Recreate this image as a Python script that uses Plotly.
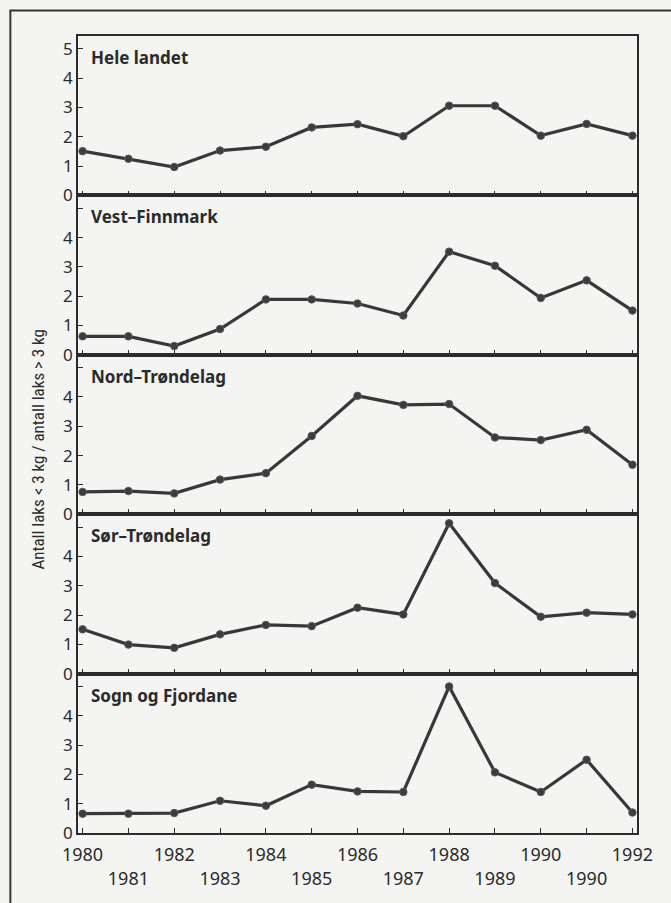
import plotly.graph_objects as go
from plotly.subplots import make_subplots

# Years on the x axis
years = [1980, 1981, 1982, 1983, 1984, 1985, 1986, 1987, 1988, 1989, 1990, 1991, 1992]

# Labels printed under the axis (two staggered rows, as printed)
year_labels = ["1980", "1981", "1982", "1983", "1984", "1985", "1986",
               "1987", "1988", "1989", "1990", "1990", "1992"]

# Ratio of small salmon (< 3 kg) to large salmon (> 3 kg), per region
region_names = ["Hele landet", "Vest–Finnmark", "Nord–Trøndelag",
                "Sør–Trøndelag", "Sogn og Fjordane"]

hele_landet = [1.51, 1.25, 0.97, 1.53, 1.66, 2.32, 2.43, 2.02, 3.06, 3.06, 2.04, 2.44, 2.04]
vest_finnmark = [0.63, 0.63, 0.30, 0.88, 1.89, 1.89, 1.75, 1.34, 3.52, 3.04, 1.94, 2.54, 1.51]
nord_trondelag = [0.76, 0.79, 0.71, 1.18, 1.40, 2.67, 4.04, 3.73, 3.76, 2.62, 2.53, 2.88, 1.69]
sor_trondelag = [1.51, 0.99, 0.88, 1.34, 1.66, 1.62, 2.25, 2.02, 5.13, 3.09, 1.94, 2.08, 2.02]
sogn_fjordane = [0.66, 0.66, 0.68, 1.10, 0.93, 1.65, 1.42, 1.40, 5.00, 2.07, 1.40, 2.50, 0.70]

series = [hele_landet, vest_finnmark, nord_trondelag, sor_trondelag, sogn_fjordane]

y_ticks = [0, 1, 2, 3, 4, 5]
y_title = "Antall laks < 3 kg / antall laks > 3 kg"

INK = "#2b2b2b"
BG = "#f4f4f2"
TICK_FONT = dict(family="Noto Sans, Open Sans, sans-serif", size=17, color=INK)

fig = make_subplots(rows=5, cols=1, shared_xaxes=True, vertical_spacing=0)

for i, (name, vals) in enumerate(zip(region_names, series), start=1):
    fig.add_trace(
        go.Scatter(
            x=years, y=vals, mode="lines+markers", name=name,
            line=dict(color="#383838", width=3.2),
            marker=dict(size=7.5, color="#3c3c3c", line=dict(color="#585858", width=1)),
            showlegend=False, hoverinfo="x+y",
        ),
        row=i, col=1,
    )
    # panel heading in the upper-left corner
    fig.add_annotation(
        text=f"<b>{name}</b>", xref=f"x{'' if i == 1 else i} domain",
        yref=f"y{'' if i == 1 else i} domain", x=0.02, y=0.865,
        xanchor="left", yanchor="middle", showarrow=False,
        font=dict(family="Noto Sans, Open Sans, sans-serif", size=17, color=INK),
    )
    fig.update_yaxes(
        range=[0, 5.44], tickvals=y_ticks,
        ticktext=[str(v) for v in y_ticks] if i == 1 else [str(v) for v in y_ticks[:-1]] + [""],
        ticks="inside", ticklen=5, tickwidth=1.3, tickcolor=INK,
        showline=True, linecolor=INK, linewidth=1.6, mirror=True,
        showgrid=False, zeroline=False, tickfont=TICK_FONT,
        row=i, col=1,
    )
    fig.update_xaxes(
        range=[1979.9, 1992.1], tickvals=years,
        ticktext=[lab if k % 2 == 0 else "<br>" + lab for k, lab in enumerate(year_labels)],
        showticklabels=(i == 5),
        ticks="inside", ticklen=5, tickwidth=1.3, tickcolor=INK,
        showline=True, linecolor=INK, linewidth=1.6, mirror=True,
        showgrid=False, zeroline=False, tickfont=dict(TICK_FONT, size=18),
        tickangle=0, ticklabelstandoff=5,
        row=i, col=1,
    )

# rotated y-axis title shared by all panels
fig.add_annotation(
    text=y_title, xref="paper", yref="paper", x=-0.072, y=0.482,
    xanchor="center", yanchor="middle", textangle=-90, showarrow=False,
    font=dict(family="Liberation Sans Narrow, Roboto Condensed, sans-serif", size=17, color=INK),
)

# outer frame around the whole figure
fig.add_shape(
    type="rect", xref="paper", yref="paper",
    x0=-0.121, y0=-0.09, x1=1.07, y1=1.032,
    line=dict(color="#333333", width=2), fillcolor="rgba(0,0,0,0)", layer="below",
)

fig.update_layout(
    width=671, height=903,
    margin=dict(l=78, r=34, t=36, b=70),
    paper_bgcolor=BG, plot_bgcolor=BG,
    showlegend=False,
)

fig.write_html("out.html")
